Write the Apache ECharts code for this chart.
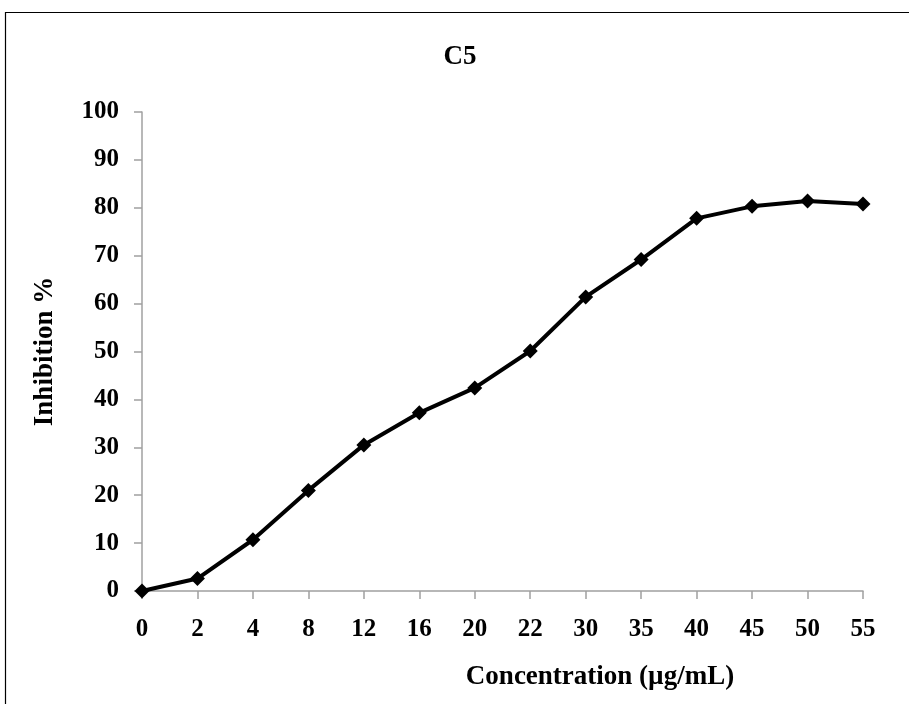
<!DOCTYPE html>
<html>
<head>
<meta charset="utf-8">
<script src="https://cdn.jsdelivr.net/npm/echarts@6/dist/echarts.min.js"></script>
<style>
html,body{margin:0;padding:0;background:#fff;}
#chart{width:909px;height:704px;}
</style>
</head>
<body>
<div id="chart"></div>
<script>
const categories = ['0','2','4','8','12','16','20','22','30','35','40','45','50','55'];
const inhibition = [0, 2.6, 10.7, 21.0, 30.5, 37.2, 42.4, 50.1, 61.4, 69.2, 77.8, 80.3, 81.4, 80.8];
const titleText = 'C5';
const xName = 'Concentration (µg/mL)';
const yName = 'Inhibition %';

const FONT = "'Liberation Serif','Times New Roman',serif";
const chart = echarts.init(document.getElementById('chart'));
chart.setOption({
  backgroundColor: '#fff',
  animation: false,
  title: {
    text: titleText,
    left: 455, top: 39,
    textAlign: 'center',
    textStyle: {fontFamily: FONT, fontWeight: 'bold', fontSize: 27, color: '#000'}
  },
  graphic: [
    {type: 'rect', shape: {x: 5.5, y: 12.5, width: 1000, height: 800},
     style: {fill: 'none', stroke: '#000', lineWidth: 1.2}, silent: true, z: -1},
    {type: 'text', x: 600, y: 677,
     style: {text: xName, textAlign: 'center', textVerticalAlign: 'middle',
             font: "bold 27px 'Liberation Serif','Times New Roman',serif", fill: '#000'}}
  ],
  grid: {left: 142, right: 46, top: 112, bottom: 113, containLabel: false},
  xAxis: {
    type: 'category',
    data: categories,
    boundaryGap: false,
    axisLine: {lineStyle: {color: '#a0a0a0', width: 1.5}},
    axisTick: {show: true, length: 8, alignWithLabel: true, lineStyle: {color: '#a0a0a0', width: 1.5}},
    axisLabel: {margin: 26, fontFamily: FONT, fontWeight: 'bold', fontSize: 25, color: '#000', interval: 0},
    splitLine: {show: false}
  },
  yAxis: {
    type: 'value',
    min: 0, max: 100, interval: 10,
    name: yName,
    nameLocation: 'middle',
    nameGap: 83,
    nameTextStyle: {fontFamily: FONT, fontWeight: 'bold', fontSize: 27, color: '#000'},
    axisLine: {show: true, lineStyle: {color: '#a0a0a0', width: 1.5}},
    axisTick: {show: true, length: 8, lineStyle: {color: '#a0a0a0', width: 1.5}},
    axisLabel: {margin: 23, fontFamily: FONT, fontWeight: 'bold', fontSize: 25, color: '#000'},
    splitLine: {show: false}
  },
  series: [{
    type: 'line',
    data: inhibition,
    symbol: 'diamond',
    symbolSize: 15,
    lineStyle: {color: '#000', width: 4},
    itemStyle: {color: '#000'}
  }]
});
</script>
</body>
</html>
